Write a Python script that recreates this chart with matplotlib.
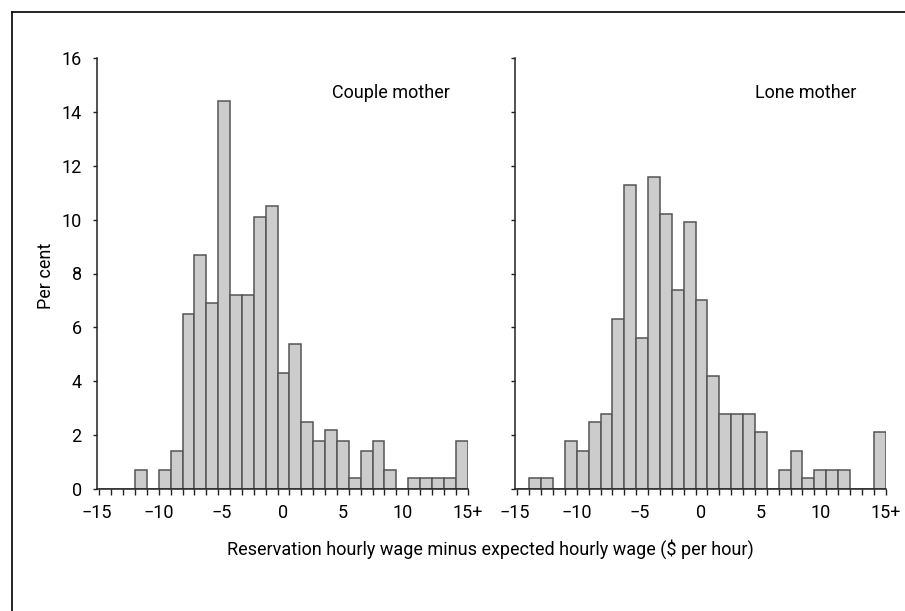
import matplotlib
matplotlib.use("Agg")
import matplotlib.pyplot as plt
from matplotlib.lines import Line2D

plt.rcParams['font.family'] = ['Roboto', 'DejaVu Sans']

# 31 categories: -15 ... 14, 15+
categories = [str(v) for v in range(-15, 15)] + ["15+"]

couple_mother = [0, 0, 0, 0.7, 0, 0.7, 1.4, 6.5, 8.7, 6.9, 14.4, 7.2, 7.2, 10.1, 10.5,
                 4.3, 5.4, 2.5, 1.8, 2.2, 1.8, 0.4, 1.4, 1.8, 0.7, 0, 0.4, 0.4, 0.4, 0.4, 1.8]
lone_mother = [0, 0.4, 0.4, 0, 1.8, 1.4, 2.5, 2.8, 6.3, 11.3, 5.6, 11.6, 10.2, 7.4, 9.9,
               7.0, 4.2, 2.8, 2.8, 2.8, 2.1, 0, 0.7, 1.4, 0.4, 0.7, 0.7, 0.7, 0, 0, 2.1]

x_tick_labels = ["\u221215", "\u221210", "\u22125", "0", "5", "10", "15+"]
x_label_pos = [-0.2, 5.0, 10.3, 15.5, 20.5, 25.5, 31.0]
y_ticks = [0, 2, 4, 6, 8, 10, 12, 14, 16]

panel_titles = ["Couple mother", "Lone mother"]

fig = plt.figure(figsize=(9.05, 6.11), dpi=100)
W, H = 905, 611

def ax_rect(x0, x1, ytop, ybot):
    return [x0 / W, 1 - ybot / H, (x1 - x0) / W, (ybot - ytop) / H]

ax1 = fig.add_axes(ax_rect(97, 467.5, 58, 489))
ax2 = fig.add_axes(ax_rect(515, 885.5, 58, 489))

FS = 13
for ax, vals, title, show_y in [(ax1, couple_mother, panel_titles[0], True),
                                 (ax2, lone_mother, panel_titles[1], False)]:
    xs = list(range(len(categories)))
    ax.bar(xs, vals, width=1.0, align='edge', color='#cccccc',
           edgecolor='#555555', linewidth=1.1, zorder=2)
    ax.set_xlim(0, len(categories))
    ax.set_ylim(0, 16)
    for s in ['top', 'right']:
        ax.spines[s].set_visible(False)
    for s in ['left', 'bottom']:
        ax.spines[s].set_color('#222222')
        ax.spines[s].set_linewidth(1.1)
        ax.spines[s].set_zorder(3)
    ax.xaxis.remove_overlapping_locs = False
    ax.set_xticks(range(len(categories) + 1))
    ax.set_xticklabels([''] * (len(categories) + 1))
    ax.tick_params(axis='x', which='major', direction='out', length=4.5,
                   width=1.0, color='#222222')
    ax.set_xticks(x_label_pos, minor=True)
    ax.set_xticklabels(x_tick_labels, minor=True, fontsize=FS)
    ax.tick_params(axis='x', which='minor', length=0, pad=10.5)
    ax.set_yticks(y_ticks)
    if show_y:
        ax.set_yticklabels([str(v) for v in y_ticks], fontsize=FS)
    else:
        ax.set_yticklabels([])
    ax.tick_params(axis='y', direction='out', length=3, width=1.0,
                   color='#222222', pad=8)
    ax.set_facecolor('none')

fig.text(391 / W, 1 - 93 / H, panel_titles[0], fontsize=FS, ha='center', va='center')
fig.text(806 / W, 1 - 93 / H, panel_titles[1], fontsize=FS, ha='center', va='center')
fig.text(46 / W, 1 - 276 / H, "Per cent", fontsize=FS, rotation=90,
         ha='center', va='center')
fig.text(490 / W, 1 - 549 / H,
         "Reservation hourly wage minus expected hourly wage ($ per hour)",
         fontsize=FS, ha='center', va='center')

# partial frame (left and top edges)
fig.add_artist(Line2D([11.5 / W, 11.5 / W], [0, 1 - 12 / H], color='black', lw=1.2,
                      transform=fig.transFigure))
fig.add_artist(Line2D([11.5 / W, 1], [1 - 12 / H, 1 - 12 / H], color='black', lw=1.2,
                      transform=fig.transFigure))

fig.savefig("out.png", dpi=100)
